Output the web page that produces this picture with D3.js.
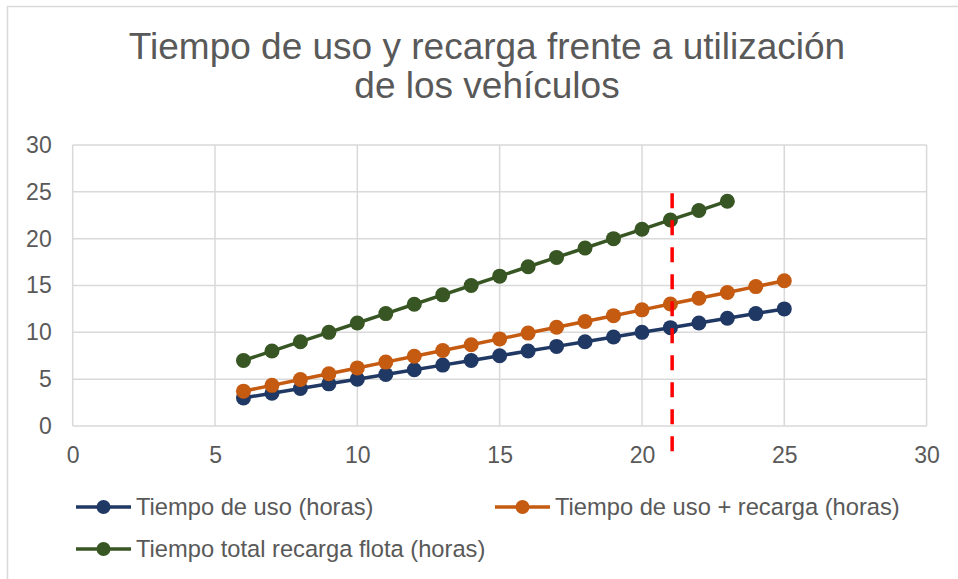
<!DOCTYPE html>
<html>
<head>
<meta charset="utf-8">
<script src="https://cdn.jsdelivr.net/npm/d3@7"></script>
<style>
  body { margin: 0; background: #fff; }
  text { font-family: "Liberation Sans", Arial, sans-serif; fill: #595959; }
</style>
</head>
<body>
<div id="chart"></div>
<script>
const xValues = [6, 7, 8, 9, 10, 11, 12, 13, 14, 15, 16, 17, 18, 19, 20, 21, 22, 23, 24, 25];
const usoValues = [3, 3.5, 4, 4.5, 5, 5.5, 6, 6.5, 7, 7.5, 8, 8.5, 9, 9.5, 10, 10.5, 11, 11.5, 12, 12.5];
const usoRecargaValues = [3.72, 4.34, 4.96, 5.58, 6.2, 6.82, 7.44, 8.06, 8.68, 9.3, 9.92, 10.54, 11.16, 11.78, 12.4, 13.02, 13.64, 14.26, 14.88, 15.5];
const flotaX = [6, 7, 8, 9, 10, 11, 12, 13, 14, 15, 16, 17, 18, 19, 20, 21, 22, 23];
const flotaValues = [7, 8, 9, 10, 11, 12, 13, 14, 15, 16, 17, 18, 19, 20, 21, 22, 23, 24];
const xTicks = [0, 5, 10, 15, 20, 25, 30];
const yTicks = [0, 5, 10, 15, 20, 25, 30];
const limitX = 21.06;
const limitY = [-2.7, 25.2];
const titleLines = ["Tiempo de uso y recarga frente a utilización", "de los vehículos"];

const series = [
    { name: "Tiempo de uso (horas)", color: "#203864", xs: xValues, ys: usoValues },
    { name: "Tiempo de uso + recarga (horas)", color: "#C55A11", xs: xValues, ys: usoRecargaValues },
    { name: "Tiempo total recarga flota (horas)", color: "#375623", xs: flotaX, ys: flotaValues }
];

const W = 958, H = 579;
const svg = d3.select("#chart").append("svg")
    .attr("width", W)
    .attr("height", H);

// chart border
svg.append("rect")
    .attr("x", 7.5).attr("y", 6.5)
    .attr("width", W).attr("height", H)
    .attr("fill", "none")
    .attr("stroke", "#d9d9d9")
    .attr("stroke-width", 1.5);

// title
svg.append("text")
    .attr("x", 487)
    .attr("y", 59)
    .attr("text-anchor", "middle")
    .style("font-size", "37px")
    .selectAll("tspan")
    .data(titleLines)
    .enter().append("tspan")
    .attr("x", 487)
    .attr("dy", (d, i) => i === 0 ? 0 : 39)
    .text(d => d);

const x = d3.scaleLinear().domain([0, 30]).range([72.7, 926.6]);
const y = d3.scaleLinear().domain([0, 30]).range([426, 145]);

// gridlines
svg.append("g")
    .selectAll("line")
    .data(yTicks)
    .enter().append("line")
    .attr("x1", x(0)).attr("x2", x(30))
    .attr("y1", d => y(d)).attr("y2", d => y(d))
    .attr("stroke", "#d9d9d9")
    .attr("stroke-width", 1.5);

svg.append("g")
    .selectAll("line")
    .data(xTicks)
    .enter().append("line")
    .attr("x1", d => x(d)).attr("x2", d => x(d))
    .attr("y1", y(0)).attr("y2", y(30))
    .attr("stroke", "#d9d9d9")
    .attr("stroke-width", 1.5);

// axes (labels only)
const xAxis = svg.append("g")
    .attr("transform", `translate(0,${y(0)})`)
    .call(d3.axisBottom(x).tickValues(xTicks).tickSize(0).tickPadding(21));
const yAxis = svg.append("g")
    .attr("transform", `translate(${x(0)},0)`)
    .call(d3.axisLeft(y).tickValues(yTicks).tickSize(0).tickPadding(21));
[xAxis, yAxis].forEach(a => {
    a.select(".domain").remove();
    a.selectAll("text")
        .style("font-size", "23px")
        .style("font-family", "'Liberation Sans', Arial, sans-serif")
        .attr("fill", "#595959");
});

// series
const line = d3.line().x(d => x(d[0])).y(d => y(d[1]));
series.forEach(s => {
    const pts = s.xs.map((v, i) => [v, s.ys[i]]);
    svg.append("path")
        .datum(pts)
        .attr("d", line)
        .attr("fill", "none")
        .attr("stroke", s.color)
        .attr("stroke-width", 3.5);
    svg.append("g")
        .selectAll("circle")
        .data(pts)
        .enter().append("circle")
        .attr("cx", d => x(d[0]))
        .attr("cy", d => y(d[1]))
        .attr("r", 7.5)
        .attr("fill", s.color);
});

// red dashed limit line
svg.append("line")
    .attr("x1", x(limitX)).attr("x2", x(limitX))
    .attr("y1", y(limitY[0])).attr("y2", y(limitY[1]))
    .attr("stroke", "#FF0000")
    .attr("stroke-width", 3.5)
    .attr("stroke-dasharray", "15,12");

// legend
const legendPos = [[76, 507], [495, 507], [76, 549]];
series.forEach((s, i) => {
    const [lx, ly] = legendPos[i];
    const g = svg.append("g").attr("transform", `translate(${lx},${ly})`);
    g.append("line")
        .attr("x1", 0).attr("x2", 55)
        .attr("y1", 0).attr("y2", 0)
        .attr("stroke", s.color)
        .attr("stroke-width", 3.5);
    g.append("circle")
        .attr("cx", 27.5).attr("cy", 0)
        .attr("r", 7)
        .attr("fill", s.color);
    g.append("text")
        .attr("x", 60)
        .attr("y", 0)
        .attr("dy", "0.35em")
        .style("font-size", "23.7px")
        .text(s.name);
});
</script>
</body>
</html>
